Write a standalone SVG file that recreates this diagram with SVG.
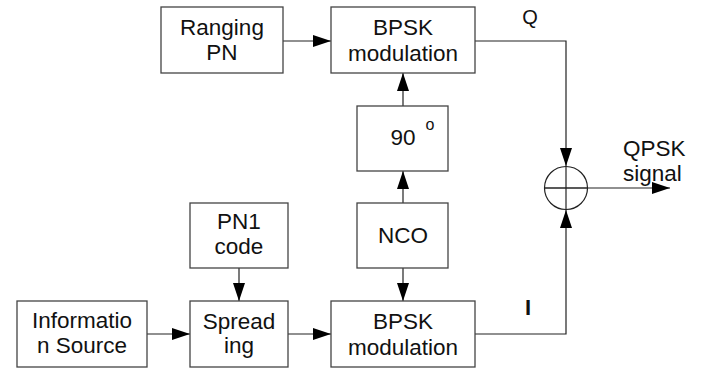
<svg xmlns="http://www.w3.org/2000/svg" width="701" height="369" viewBox="0 0 701 369">
<style>
.box{fill:#fff;stroke:#444;stroke-width:1.3}
.t{font-family:"Liberation Sans",Arial,sans-serif;font-size:22.5px;fill:#111;text-anchor:middle}
.ln{fill:none;stroke:#222;stroke-width:1.2}
</style>
<defs>
<marker id="ah" markerUnits="userSpaceOnUse" markerWidth="19" markerHeight="13" refX="18" refY="6" orient="auto">
<path d="M0,0 L18,6 L0,12 z" fill="#000"/>
</marker>
</defs>
<rect width="701" height="369" fill="#fff"/>
<g id="connectors">
<line class="ln" x1="283" y1="41" x2="331" y2="41" marker-end="url(#ah)"/>
<polyline class="ln" points="475,41 566,41 566,166" marker-end="url(#ah)"/>
<polyline class="ln" points="475,334 566,334 566,210" marker-end="url(#ah)"/>
<line class="ln" x1="403" y1="106" x2="403" y2="73" marker-end="url(#ah)"/>
<line class="ln" x1="403" y1="203" x2="403" y2="171" marker-end="url(#ah)"/>
<line class="ln" x1="403" y1="268" x2="403" y2="301" marker-end="url(#ah)"/>
<line class="ln" x1="239" y1="268" x2="239" y2="301" marker-end="url(#ah)"/>
<line class="ln" x1="147" y1="334" x2="190" y2="334" marker-end="url(#ah)"/>
<line class="ln" x1="288" y1="334" x2="331" y2="334" marker-end="url(#ah)"/>
<line class="ln" x1="544" y1="188" x2="670" y2="188" marker-end="url(#ah)"/>
</g>
<g id="ranging">
<rect class="box" x="161" y="7" width="122" height="66"/>
<text class="t" x="222" y="35">Ranging</text>
<text class="t" x="222" y="60">PN</text>
</g>
<g id="bpsk-q">
<rect class="box" x="331" y="7" width="144" height="66"/>
<text class="t" x="403" y="35">BPSK</text>
<text class="t" x="403" y="61">modulation</text>
</g>
<g id="phase90">
<rect class="box" x="357" y="106" width="91" height="65"/>
<text class="t" x="403" y="145">90</text>
<text class="t" x="430" y="130" style="font-size:16px">o</text>
</g>
<g id="nco">
<rect class="box" x="357" y="203" width="91" height="65"/>
<text class="t" x="403" y="243">NCO</text>
</g>
<g id="pn1">
<rect class="box" x="190" y="203" width="98" height="65"/>
<text class="t" x="239" y="229">PN1</text>
<text class="t" x="239" y="254">code</text>
</g>
<g id="info">
<rect class="box" x="17" y="301" width="130" height="66"/>
<text class="t" x="82" y="328">Informatio</text>
<text class="t" x="82" y="353">n Source</text>
</g>
<g id="spreading">
<rect class="box" x="190" y="301" width="98" height="66"/>
<text class="t" x="239" y="329">Spread</text>
<text class="t" x="239" y="353">ing</text>
</g>
<g id="bpsk-i">
<rect class="box" x="331" y="301" width="144" height="66"/>
<text class="t" x="403" y="329">BPSK</text>
<text class="t" x="403" y="355">modulation</text>
</g>
<g id="adder">
<circle cx="566" cy="188" r="21.5" fill="none" stroke="#222" stroke-width="1.2"/>
<line class="ln" x1="566" y1="166" x2="566" y2="210"/>
<line class="ln" x1="544" y1="188" x2="588" y2="188"/>
</g>
<g id="labels">
<text class="t" x="530" y="24" style="font-size:20px">Q</text>
<text class="t" x="528" y="315" style="font-size:22px;font-weight:bold">I</text>
<text class="t" x="623" y="156" style="text-anchor:start">QPSK</text>
<text class="t" x="623" y="181" style="text-anchor:start">signal</text>
</g>
</svg>
